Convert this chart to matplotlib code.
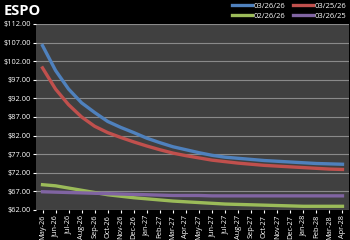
import matplotlib
matplotlib.use("Agg")
import numpy as np
import matplotlib.pyplot as plt
from matplotlib.ticker import FuncFormatter

months = ["May-26", "Jun-26", "Jul-26", "Aug-26", "Sep-26", "Oct-26", "Nov-26", "Dec-26",
          "Jan-27", "Feb-27", "Mar-27", "Apr-27", "May-27", "Jun-27", "Jul-27", "Aug-27",
          "Sep-27", "Oct-27", "Nov-27", "Dec-27", "Jan-28", "Feb-28", "Mar-28", "Apr-28"]

s_032626 = [106.2, 99.5, 94.5, 90.8, 88.2, 85.8, 84.2, 82.8, 81.3, 80.1, 79.0, 78.2,
            77.4, 76.7, 76.2, 75.9, 75.6, 75.3, 75.1, 74.9, 74.7, 74.5, 74.4, 74.3]
s_032526 = [100.2, 94.5, 90.3, 87.0, 84.5, 82.8, 81.5, 80.3, 79.2, 78.2, 77.3, 76.6,
            76.0, 75.4, 75.0, 74.6, 74.3, 74.0, 73.8, 73.6, 73.4, 73.2, 73.0, 72.9]
s_022626 = [68.8, 68.5, 67.9, 67.3, 66.7, 66.1, 65.7, 65.3, 65.0, 64.7, 64.4, 64.2,
            64.0, 63.8, 63.6, 63.5, 63.4, 63.3, 63.2, 63.1, 63.0, 63.0, 63.0, 63.0]
s_032625 = [66.9, 66.8, 66.7, 66.6, 66.5, 66.4, 66.3, 66.2, 66.1, 66.0, 65.9, 65.9,
            65.9, 65.8, 65.8, 65.8, 65.8, 65.8, 65.8, 65.8, 65.8, 65.8, 65.8, 65.8]

plt.rcParams['font.family'] = ['Open Sans', 'DejaVu Sans']

fig = plt.figure(figsize=(3.5, 2.4), dpi=100, facecolor="black")
ax = fig.add_axes([36/350, 1 - 210/240, 313/350, 186/240])
ax.set_facecolor("#404040")

x = range(len(months))
l1, = ax.plot(x, s_032626, color="#4F81BD", lw=2.4, label="03/26/26")
l2, = ax.plot(x, s_032526, color="#C0504D", lw=2.4, label="03/25/26")
l3, = ax.plot(x, s_022626, color="#9BBB59", lw=2.4, label="02/26/26")
l4, = ax.plot(x, s_032625, color="#8064A2", lw=2.4, label="03/26/25")

ax.set_xlim(-0.5, len(months) - 0.5)
ax.set_ylim(62, 112)
ax.set_yticks(np.arange(62, 113, 5))
ax.yaxis.set_major_formatter(FuncFormatter(lambda v, p: f"${v:.2f}"))
ax.grid(axis="y", color="#8a8a8a", lw=0.8)
ax.set_axisbelow(True)
ax.set_xticks(list(x))
ax.set_xticklabels(months, rotation=90)
ax.tick_params(colors="white", labelsize=5.3, length=2, pad=1.5)
for s in ax.spines.values():
    s.set_visible(False)

fig.text(4/350, 1 - 11/240, "ESPO", color="white", fontsize=10.5, fontweight="bold", va="center")

leg = fig.legend([l1, l3, l2, l4], [l.get_label() for l in (l1, l3, l2, l4)],
                 ncol=2, loc="upper right", bbox_to_anchor=(0.995, 1.0), frameon=False,
                 fontsize=5.5, labelcolor="white", handlelength=2.6, handletextpad=0.2,
                 columnspacing=1.0, labelspacing=0.35, borderaxespad=0.2, borderpad=0.1)

fig.savefig("out.png", facecolor="black")
